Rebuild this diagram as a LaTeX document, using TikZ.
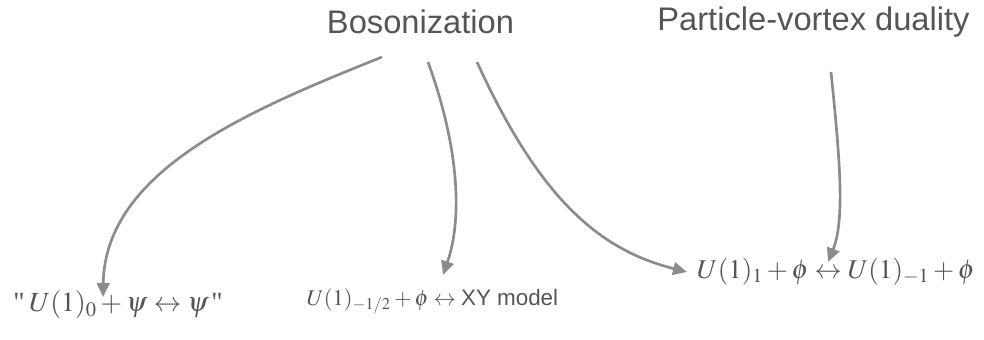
\documentclass[tikz,border=0pt]{standalone}
\usepackage{mathptmx}
\usepackage[no-math]{fontspec}
\setmainfont{Liberation Serif}
\setsansfont{Liberation Sans}
\usepackage{xcolor}
\usepackage{tikz}
\usetikzlibrary{arrows.meta}
\definecolor{LabelInk}{HTML}{555555}
\definecolor{ArrowInk}{HTML}{8C8C8C}
\tikzset{
  figure/.style={x=0.75pt,y=-0.75pt,text=LabelInk},
  heading/.style={font=\sffamily\fontsize{24.5}{28}\selectfont,inner sep=0pt},
  formula/.style={inner sep=0pt},
  flow/.style={-{Triangle[length=10.5pt,width=9.5pt]},line width=2pt,draw=ArrowInk},
}

\begin{document}
\begin{tikzpicture}[figure]
  \useasboundingbox (0,0) rectangle (984,339);

  \node[heading] (boson) at (420.5,22) {Bosonization};
  \node[heading] (pvd) at (813.5,22) {Particle-vortex duality};

  \node[formula,font=\fontsize{20.8}{24}\selectfont] (fermi) at (118,305)
    {\textquotedbl\,$U(1)_0+\psi\leftrightarrow\psi$\kern2pt\textquotedbl};
  \node[formula,font=\fontsize{16.8}{20}\selectfont] (xy) at (432.5,301)
    {$U(1)_{-1/2}+\phi\leftrightarrow{}$\textsf{XY model}};
  \node[formula,font=\fontsize{20.3}{24}\selectfont] (boso) at (836,272)
    {$U(1)_1+\phi\leftrightarrow U(1)_{-1}+\phi$};

  % free ends of the arrows
  \coordinate (bA) at (382,57);
  \coordinate (bB) at (428,62);
  \coordinate (bC) at (477,62);
  \coordinate (pA) at (831,72);
  \coordinate (tA) at (103,297);
  \coordinate (tB) at (443,275);
  \coordinate (tC) at (687,272);
  \coordinate (tD) at (828,262);

  \draw[flow] (bA) .. controls (250,110) and (105,170) .. (tA);
  \draw[flow] (bB) .. controls (460,150) and (462,220) .. (tB);
  \draw[flow] (bC) .. controls (540,200) and (600,250) .. (tC);
  \draw[flow] (pA) .. controls (840,160) and (845,220) .. (tD);
\end{tikzpicture}
\end{document}
